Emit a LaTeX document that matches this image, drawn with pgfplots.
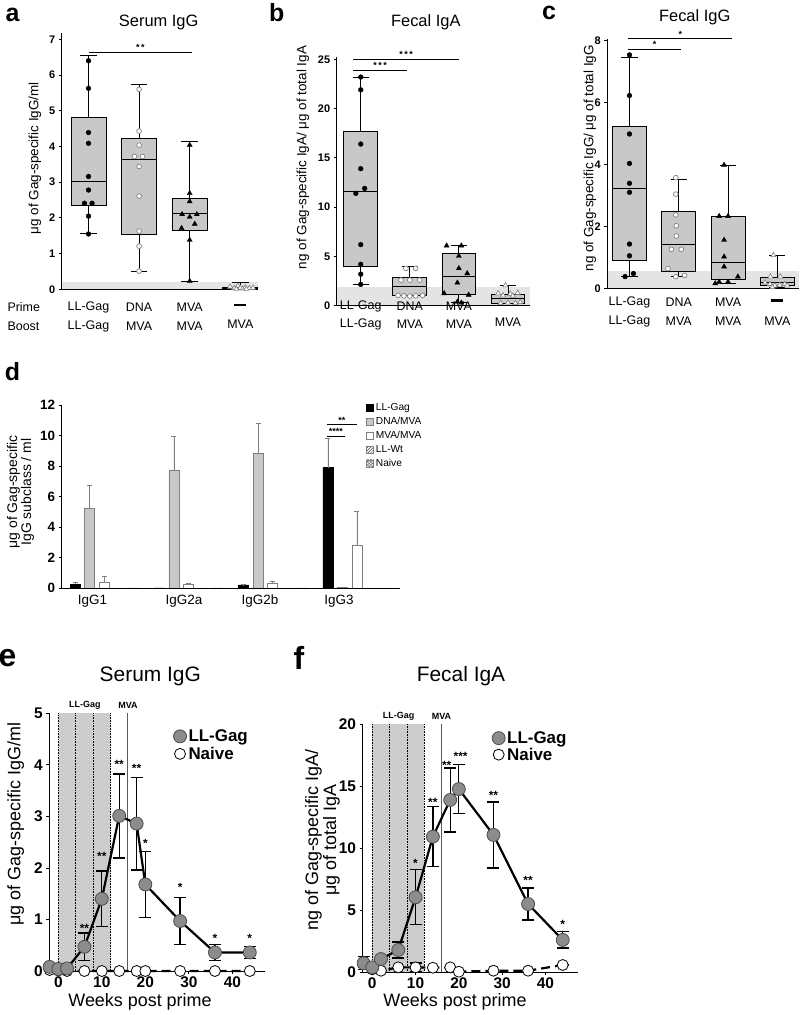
\documentclass[border=0pt]{standalone}
\usepackage{fontspec}
\setmainfont{Liberation Sans}
\setsansfont{Liberation Sans}
\usepackage{pgfplots}
\pgfplotsset{compat=1.18}
\usepgfplotslibrary{statistics}
\usetikzlibrary{patterns}
\newcommand{\fs}[1]{\fontsize{#1}{#1}\selectfont}
\definecolor{boxgray}{HTML}{C8C8C8}
\definecolor{bandgray}{HTML}{E4E4E4}
\definecolor{hollow}{HTML}{808080}
\definecolor{shadegray}{HTML}{CDCDCD}
\definecolor{markgray}{HTML}{8C8C8C}
\pgfplotsset{
  base/.style={scale only axis, clip=false, axis on top,
    axis x line*=bottom, axis y line*=left,
    axis line style={-,black,line width=0.9bp}, tick align=outside, major tick length=3bp,
    tick style={black,line width=0.8bp},
    /pgf/number format/assume math mode=true,
    ticklabel style={font=\bfseries\fs{11}}},
  bx/.style={boxplot prepared={#1}, boxplot/draw direction=y, draw=black, fill=boxgray, line width=0.8bp,
    boxplot/box extend=0.69, boxplot/whisker extend=0.33, solid},
  dotb/.style={only marks, mark=*, mark size=2.4bp, mark options={fill=black, draw=black}},
  dotw/.style={only marks, mark=*, mark size=2.4bp, mark options={fill=white, draw=hollow, line width=0.7bp}},
  trib/.style={only marks, mark=triangle*, mark size=2.9bp, mark options={fill=black, draw=black}},
  triw/.style={only marks, mark=triangle*, mark size=2.9bp, mark options={fill=white, draw=hollow, line width=0.6bp}},
  sqleg/.style={legend image code/.code={\draw[##1, line width=0.6bp] (0bp,-3.5bp) rectangle (7bp,3.5bp);}},
  lineleg/.style={legend image code/.code={\draw[mark repeat=2,mark phase=2,##1] plot coordinates {(-5bp,0bp)(0bp,0bp)(5bp,0bp)};}},
  dbar/.style={ybar, bar width=10bp, bar shift=0pt, line width=0.6bp, sqleg,
    error bars/y dir=plus, error bars/y explicit, error bars/error bar style={gray, line width=0.6bp},
    error bars/error mark options={rotate=90, gray, mark size=2.5bp, line width=0.6bp}},
  ebar/.style={error bars/y dir=both, error bars/y explicit, error bars/error bar style={line width=1.3bp, solid},
    error bars/error mark options={rotate=90, line width=1.3bp, mark size=6bp}},
}
\tikzset{sig/.style={font=\bfseries\fs{9}, inner sep=1bp},
  cat/.style={font=\fs{12.5}},
  star/.style={font=\bfseries\fs{12}, inner sep=0pt, yshift=-3bp}}
\newcommand{\dash}{\rule[3.5bp]{12bp}{2.2bp}}
\begin{document}
\begin{tikzpicture}
\path[use as bounding box] (0,0) rectangle (800bp,-1015bp);
% ---------------- panel a ----------------
\begin{axis}[base, at={(61.7bp,-289.3bp)}, anchor=south west, width=196.3bp, height=256bp,
  xmin=-0.53, xmax=3.35, ymin=0, ymax=7.17, ytick={0,...,7}, xtick=\empty]
\fill[bandgray] (axis cs:-0.53,0) rectangle (axis cs:3.35,0.2);
\addplot[bx={lower whisker=1.57, lower quartile=2.35, median=3.03, upper quartile=4.81, upper whisker=6.55, draw position=0}] coordinates {};
\addplot[bx={lower whisker=0.51, lower quartile=1.54, median=3.64, upper quartile=4.23, upper whisker=5.74, draw position=1}] coordinates {};
\addplot[bx={lower whisker=0.23, lower quartile=1.66, median=2.13, upper quartile=2.56, upper whisker=4.14, draw position=2}] coordinates {};
\addplot[bx={lower whisker=0, lower quartile=0.01, median=0.03, upper quartile=0.06, upper whisker=0.2, draw position=3}] coordinates {};
\addplot[dotb] coordinates {(0,6.40)(0,5.63)(0,4.39)(0,4.09)(0,3.16)(0,2.78)(-0.08,2.41)(0.07,2.41)(0,2.05)(0,1.55)};
\addplot[dotw] coordinates {(1,5.60)(1,4.43)(1,4.04)(0.91,3.72)(1.07,3.72)(1,3.44)(1,2.61)(1,1.63)(1,1.21)(1,0.51)};
\addplot[trib] coordinates {(2,4.04)(2,2.69)(2,2.46)(1.85,2.10)(2.14,2.10)(2,2.03)(2.1,1.83)(1.84,1.71)(2,1.38)(2,0.23)};
\addplot[triw] coordinates {(2.8,0.07)(2.88,0.03)(2.95,0.1)(3,0.04)(3.05,0.02)(3.1,0.05)(3.18,0.03)(3.25,0.04)(2.92,0.01)(3.12,0.01)};
\draw[line width=0.7bp] (axis cs:0,6.65) -- (axis cs:2.05,6.65) node[midway, above, sig] {*\,*};
\node[cat] at ([yshift=-17.7bp]axis cs:0,0) {LL-Gag};
\node[cat] at ([yshift=-17.7bp]axis cs:1,0) {DNA};
\node[cat] at ([yshift=-17.7bp]axis cs:2,0) {MVA};
\node[cat] at ([yshift=-17.7bp]axis cs:3,0) {\dash};
\node[cat] at ([yshift=-36.7bp]axis cs:0,0) {LL-Gag};
\node[cat] at ([yshift=-36.7bp]axis cs:1,0) {MVA};
\node[cat] at ([yshift=-36.7bp]axis cs:2,0) {MVA};
\node[cat] at ([yshift=-35bp]axis cs:3,0) {MVA};
\end{axis}
% ---------------- panel b ----------------
\begin{axis}[base, at={(336.7bp,-305.7bp)}, anchor=south west, width=193.3bp, height=248.4bp,
  xmin=-0.49, xmax=3.45, ymin=0, ymax=25.2, ytick={0,5,...,25}, xtick=\empty]
\fill[bandgray] (axis cs:-0.49,0) rectangle (axis cs:3.45,1.93);
\addplot[bx={lower whisker=2.16, lower quartile=3.96, median=11.57, upper quartile=17.65, upper whisker=23.2, draw position=0}] coordinates {};
\addplot[bx={lower whisker=1.0, lower quartile=1.01, median=2.0, upper quartile=2.87, upper whisker=3.96, draw position=1}] coordinates {};
\addplot[bx={lower whisker=0.3, lower quartile=1.18, median=2.94, upper quartile=5.31, upper whisker=6.09, draw position=2}] coordinates {};
\addplot[bx={lower whisker=0.2, lower quartile=0.24, median=0.7, upper quartile=1.15, upper whisker=2.06, draw position=3}] coordinates {};
\addplot[dotb] coordinates {(0,23.2)(0,21.9)(0,16.4)(0,13.9)(0.08,11.9)(-0.1,11.4)(0,6.2)(0,4.2)(0,3.2)(0,2.16)};
\addplot[dotw] coordinates {(0.92,3.79)(1.12,3.79)(0.82,2.6)(1,2.6)(1.2,2.6)(0.76,1.05)(0.88,1.0)(1,0.98)(1.12,1.0)(1.26,1.05)};
\addplot[trib] coordinates {(1.75,6.09)(2.05,6.09)(2,5.04)(2,3.79)(2.17,3.28)(1.97,2.33)(1.7,1.25)(2.2,1.1)(1.97,0.4)(2.05,0.3)};
\addplot[triw] coordinates {(2.95,2.06)(2.8,1.25)(3.05,1.2)(3.2,1.3)(2.9,1.05)(3.1,1.0)(2.85,0.25)(3,0.3)(3.15,0.25)(3.25,0.35)};
\draw[line width=0.7bp] (axis cs:-0.15,23.9) -- (axis cs:0.94,23.9) node[midway, above, sig] {*\,*\,*};
\draw[line width=0.7bp] (axis cs:-0.15,25.0) -- (axis cs:2.0,25.0) node[midway, above, sig] {*\,*\,*};
\node[cat] at ([yshift=-0.3bp]axis cs:0,0) {LL-Gag};
\node[cat] at ([yshift=-0.3bp]axis cs:1,0) {DNA};
\node[cat] at ([yshift=-0.3bp]axis cs:2,0) {MVA};
\node[cat] at ([yshift=-18.3bp]axis cs:0,0) {LL-Gag};
\node[cat] at ([yshift=-18.3bp]axis cs:1,0) {MVA};
\node[cat] at ([yshift=-18.3bp]axis cs:2,0) {MVA};
\node[cat] at ([yshift=-16.5bp]axis cs:3,0) {MVA};
\end{axis}
% ---------------- panel c ----------------
\begin{axis}[base, at={(607.3bp,-288.7bp)}, anchor=south west, width=191.7bp, height=249.6bp,
  xmin=-0.45, xmax=3.44, ymin=0, ymax=8.05, ytick={0,2,...,8}, xtick=\empty]
\fill[bandgray] (axis cs:-0.45,0) rectangle (axis cs:3.44,0.58);
\addplot[bx={lower whisker=0.39, lower quartile=0.92, median=3.22, upper quartile=5.25, upper whisker=7.46, draw position=0}] coordinates {};
\addplot[bx={lower whisker=0.39, lower quartile=0.55, median=1.44, upper quartile=2.49, upper whisker=3.54, draw position=1}] coordinates {};
\addplot[bx={lower whisker=0.17, lower quartile=0.3, median=0.85, upper quartile=2.32, upper whisker=3.99, draw position=2}] coordinates {};
\addplot[bx={lower whisker=0.05, lower quartile=0.12, median=0.2, upper quartile=0.35, upper whisker=1.06, draw position=3}] coordinates {};
\addplot[dotb] coordinates {(0,7.54)(0,6.23)(0,4.99)(0,4.04)(0,3.40)(0,3.11)(0,1.44)(0,1.06)(0.08,0.49)(-0.09,0.39)};
\addplot[dotw] coordinates {(0.94,3.58)(0.94,3.05)(0.94,2.38)(0.95,2.03)(0.95,1.70)(0.85,1.27)(1.05,1.27)(0.78,0.65)(0.94,0.39)(1.12,0.43)};
\addplot[trib] coordinates {(1.92,3.99)(1.82,2.34)(2.0,2.34)(1.92,1.57)(1.92,1.03)(1.92,0.71)(2.2,0.39)(1.82,0.22)(2.0,0.22)(1.74,0.17)};
\addplot[triw] coordinates {(2.92,1.08)(2.86,0.39)(3.06,0.39)(2.75,0.2)(2.85,0.15)(2.95,0.1)(3.05,0.12)(3.15,0.15)(3.2,0.1)(2.9,0.05)};
\draw[line width=0.7bp] (axis cs:-0.02,7.72) -- (axis cs:1.04,7.72) node[midway, above, sig] {*};
\draw[line width=0.7bp] (axis cs:-0.02,8.06) -- (axis cs:2.08,8.06) node[midway, above, sig] {*};
\node[cat] at ([yshift=-13.6bp]axis cs:0,0) {LL-Gag};
\node[cat] at ([yshift=-13.6bp]axis cs:1,0) {DNA};
\node[cat] at ([yshift=-13.6bp]axis cs:2,0) {MVA};
\node[cat] at ([yshift=-13.6bp]axis cs:3,0) {\dash};
\node[cat] at ([yshift=-32.3bp]axis cs:0,0) {LL-Gag};
\node[cat] at ([yshift=-32.3bp]axis cs:1,0) {MVA};
\node[cat] at ([yshift=-32.3bp]axis cs:2,0) {MVA};
\node[cat] at ([yshift=-32.3bp]axis cs:3,0) {MVA};
\end{axis}
% ---------------- panel d ----------------
\begin{axis}[base, at={(61.7bp,-588.3bp)}, anchor=south west, width=338.3bp, height=183.3bp,
  xmin=0.842, xmax=4.855, ymin=0, ymax=12, ytick={0,2,...,12},
  yticklabel style={font=\bfseries\fs{13.5}},
  xtick={1.208,2.293,3.195,4.132}, xticklabels={IgG1,IgG2a,IgG2b,IgG3},
  xticklabel style={font=\fs{13.5}}, x tick style={draw=none},
  legend style={at={(axis description cs:0.9,1.02)}, anchor=north west, draw=none, fill=none,
    font=\fs{10.2}, inner sep=0pt, row sep=1.2bp, legend cell align=left}]
\addplot[dbar, fill=black, draw=black] coordinates {(1,0.26)+-(0,0.11) (2,0.03)+-(0,0) (3,0.22)+-(0,0.02) (4,7.89)+-(0,1.91)};
\addlegendentry{LL-Gag}
\addplot[dbar, fill=boxgray, draw=gray] coordinates {(1.172,5.22)+-(0,1.5) (2.172,7.75)+-(0,2.23) (3.172,8.85)+-(0,1.95) (4.172,0.07)+-(0,0.02)};
\addlegendentry{DNA/MVA}
\addplot[dbar, fill=white, draw=gray] coordinates {(1.344,0.40)+-(0,0.37) (2.344,0.29)+-(0,0.04) (3.344,0.33)+-(0,0.15) (4.344,2.82)+-(0,2.2)};
\addlegendentry{MVA/MVA}
\addplot[dbar, draw=gray, pattern=north east lines, pattern color=gray!60!black] coordinates {(1.516,0.03)+-(0,0) (2.516,0.03)+-(0,0) (3.516,0.03)+-(0,0) (4.516,0.03)+-(0,0)};
\addlegendentry{LL-Wt}
\addplot[dbar, draw=gray, pattern=crosshatch, pattern color=gray!70!black] coordinates {(1.688,0.03)+-(0,0) (2.688,0.03)+-(0,0) (3.688,0.03)+-(0,0) (4.688,0.03)+-(0,0)};
\addlegendentry{Naive}
\draw[line width=0.7bp] (axis cs:3.986,10.73) -- (axis cs:4.342,10.73) node[midway, above, sig] {**};
\draw[line width=0.7bp] (axis cs:3.986,9.98) -- (axis cs:4.203,9.98) node[midway, above, sig] {****};
\end{axis}
% ---------------- panel e ----------------
\begin{axis}[base, at={(49.3bp,-971bp)}, anchor=south west, width=215.7bp, height=257.7bp,
  xmin=-2.07, xmax=47.5, ymin=0, ymax=5, ytick={0,...,5}, xtick={0,10,...,40},
  ticklabel style={font=\bfseries\fs{15.5}}, xticklabel style={yshift=1bp}, reverse legend, lineleg,
  legend style={at={(axis description cs:0.575,0.945)}, anchor=north west, draw=none, fill=none,
    font=\bfseries\fs{17}, inner sep=0pt, row sep=0bp, legend cell align=left}]
\fill[shadegray] (axis cs:0,0) rectangle (axis cs:12,5);
\draw[densely dotted, line width=0.6bp] (axis cs:0,0) -- (axis cs:0,5);
\draw[densely dotted, line width=0.6bp] (axis cs:4,0) -- (axis cs:4,5);
\draw[densely dotted, line width=0.6bp] (axis cs:8,0) -- (axis cs:8,5);
\draw[densely dotted, line width=0.6bp] (axis cs:12,0) -- (axis cs:12,5);
\draw[gray!70!black, line width=1bp] (axis cs:16,0) -- (axis cs:16,5);
\addplot[black, line width=2.2bp, dash pattern=on 9bp off 5bp, mark=*, mark size=5.5bp,
  mark options={solid, fill=white, draw=black, line width=0.8bp}]
  coordinates {(-2,0.02)(0,0.01)(2,0)(6,0)(10,0)(14,0)(18,0)(20,0)(28,0)(36,0)(44,0)};
\addlegendentry{Naive}
\addplot[black, line width=2.2bp, mark=*, mark size=6.5bp, mark options={fill=markgray, draw=black!70, line width=0.8bp}, ebar]
  coordinates {(-2,0.08)+-(0,0) (0,0.04)+-(0,0) (2,0.05)+-(0,0) (6,0.47)+-(0,0.27) (10,1.40)+-(0,0.54)
   (14,3.01)+-(0,0.815) (18,2.86)+-(0,0.9) (20,1.68)+-(0,0.635) (28,0.97)+-(0,0.455)
   (36,0.36)+-(0,0.155) (44,0.36)+-(0,0.12)};
\addlegendentry{LL-Gag}
\node[star] at (axis cs:6,0.89) {**};
\node[star] at (axis cs:10,2.28) {**};
\node[star] at (axis cs:14,4.06) {**};
\node[star] at (axis cs:18,3.98) {**};
\node[star] at (axis cs:20,2.54) {*};
\node[star] at (axis cs:28,1.68) {*};
\node[star] at (axis cs:36,0.69) {*};
\node[star] at (axis cs:44,0.69) {*};
\node[font=\bfseries\fs{9}] at ([yshift=7.6bp]axis cs:6.1,5) {LL-Gag};
\node[font=\bfseries\fs{9}] at ([yshift=7.6bp]axis cs:16,5) {MVA};
\end{axis}
% ---------------- panel f ----------------
\begin{axis}[base, at={(362.5bp,-972.3bp)}, anchor=south west, width=215.8bp, height=248bp,
  xmin=-2.26, xmax=47.6, ymin=0, ymax=20, ytick={0,5,...,20}, xtick={0,10,...,40},
  ticklabel style={font=\bfseries\fs{15.5}}, xticklabel style={yshift=1bp}, reverse legend, lineleg,
  legend style={at={(axis description cs:0.6,0.98)}, anchor=north west, draw=none, fill=none,
    font=\bfseries\fs{17}, inner sep=0pt, row sep=-1bp, legend cell align=left}]
\fill[shadegray] (axis cs:0,0) rectangle (axis cs:12,20);
\draw[densely dotted, line width=0.6bp] (axis cs:0,0) -- (axis cs:0,20);
\draw[densely dotted, line width=0.6bp] (axis cs:4,0) -- (axis cs:4,20);
\draw[densely dotted, line width=0.6bp] (axis cs:8,0) -- (axis cs:8,20);
\draw[densely dotted, line width=0.6bp] (axis cs:12,0) -- (axis cs:12,20);
\draw[gray!70!black, line width=1bp] (axis cs:16,0) -- (axis cs:16,20);
\addplot[black, line width=2.2bp, dash pattern=on 9bp off 5bp, mark=*, mark size=5.5bp,
  mark options={solid, fill=white, draw=black, line width=0.8bp}, ebar]
  coordinates {(-2,0.85)+-(0,0.45) (0,0.24)+-(0,0) (2,0.13)+-(0,0) (6,0.4)+-(0,0) (10,0.4)+-(0,0.35)
   (14,0.37)+-(0,0) (18,0.4)+-(0,0) (20,0.05)+-(0,0) (28,0.13)+-(0,0) (36,0.13)+-(0,0) (44,0.59)+-(0,0)};
\addlegendentry{Naive}
\addplot[black, line width=2.2bp, mark=*, mark size=6.5bp, mark options={fill=markgray, draw=black!70, line width=0.8bp}, ebar]
  coordinates {(-2,0.73)+-(0,0.53) (0,0.4)+-(0,0.1) (2,1.07)+-(0,0.1) (6,1.8)+-(0,0.64) (10,6.05)+-(0,2.22)
   (14,10.94)+-(0,2.42) (18,13.9)+-(0,2.58) (20,14.78)+-(0,2.0) (28,11.08)+-(0,2.66)
   (36,5.51)+-(0,1.28) (44,2.61)+-(0,0.66)};
\addlegendentry{LL-Gag}
\node[star] at (axis cs:10,9.06) {*};
\node[star] at (axis cs:14,13.95) {**};
\node[star] at (axis cs:17.2,16.9) {**};
\node[star] at (axis cs:20.4,17.66) {***};
\node[star] at (axis cs:28,14.5) {**};
\node[star] at (axis cs:36,7.66) {**};
\node[star] at (axis cs:44,4.09) {*};
\node[font=\bfseries\fs{9}] at ([yshift=7.6bp]axis cs:6.1,20) {LL-Gag};
\node[font=\bfseries\fs{9}] at ([yshift=7.6bp]axis cs:16,20) {MVA};
\end{axis}
% ---------------- free text ----------------
\node[font=\bfseries\fs{25}] at (12.5bp,-15bp) {a};
\node[font=\bfseries\fs{25}] at (276.7bp,-12.5bp) {b};
\node[font=\bfseries\fs{25}] at (549bp,-12.5bp) {c};
\node[font=\bfseries\fs{25}] at (12.5bp,-371.5bp) {d};
\node[font=\bfseries\fs{32}] at (7.5bp,-658bp) {e};
\node[font=\bfseries\fs{32}] at (299bp,-658bp) {f};
\node[font=\fs{16.5}] at (158.7bp,-22.5bp) {Serum IgG};
\node[font=\fs{16.5}] at (425.8bp,-22.5bp) {Fecal IgA};
\node[font=\fs{16.5}] at (694.7bp,-17bp) {Fecal IgG};
\node[font=\fs{21}] at (150.3bp,-676bp) {Serum IgG};
\node[font=\fs{21}] at (461bp,-676bp) {Fecal IgA};
\node[font=\fs{13.5}, rotate=90] at (35bp,-158.3bp) {μg of Gag-specific IgG/ml};
\node[font=\fs{13.5}, rotate=90] at (302.8bp,-157.5bp) {ng of Gag-specific IgA/ μg of total IgA};
\node[font=\fs{13.5}, rotate=90] at (590bp,-158.3bp) {ng of Gag-specific IgG/ μg of total IgG};
\node[font=\fs{14}, rotate=90, align=center] at (20.5bp,-492bp) {μg of Gag-specific\\IgG subclass / ml};
\node[font=\fs{18}, rotate=90] at (15.8bp,-824bp) {μg of Gag-specific IgG/ml};
\node[font=\fs{18}, rotate=90, align=center] at (322.5bp,-840bp) {ng of Gag-specific IgA/\\μg of total IgA};
\node[font=\fs{18}] at (140bp,-1002bp) {Weeks post prime};
\node[font=\fs{18}] at (455bp,-1002bp) {Weeks post prime};
\node[font=\fs{12.5}, anchor=west] at (4bp,-307bp) {Prime};
\node[font=\fs{12.5}, anchor=west] at (4bp,-326bp) {Boost};
\end{tikzpicture}
\end{document}
